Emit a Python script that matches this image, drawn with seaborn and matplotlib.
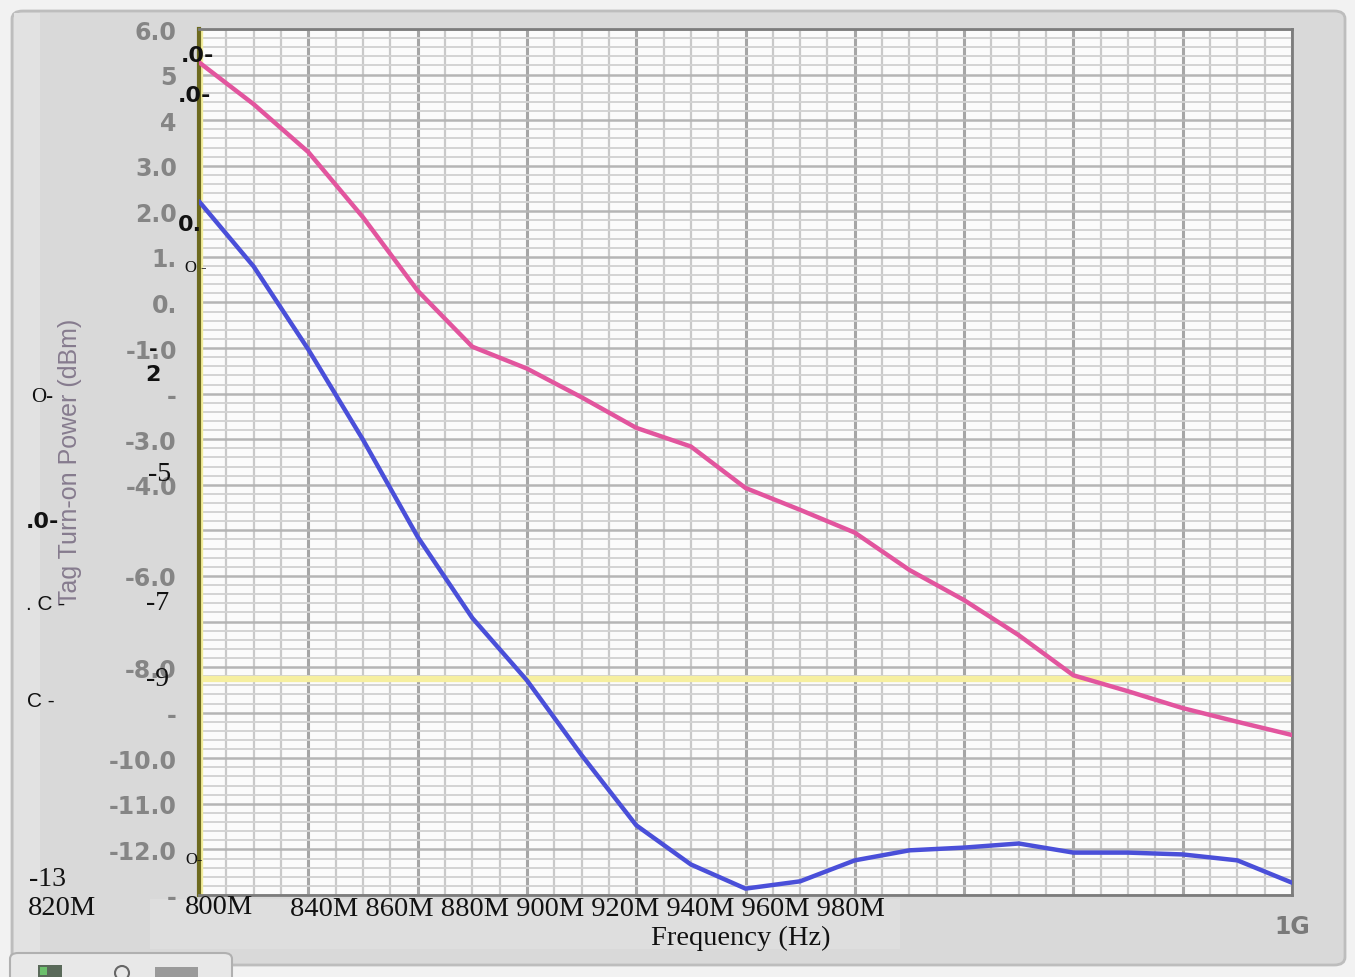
import matplotlib
matplotlib.use("Agg")
import matplotlib.pyplot as plt
import seaborn as sns
import pandas as pd
from matplotlib.patches import FancyBboxPatch, Rectangle, Ellipse
from matplotlib.ticker import MultipleLocator, FixedLocator

# ---------------- data ----------------
freq_mhz = [800, 810, 820, 830, 840, 850, 860, 870, 880, 890, 900,
            910, 920, 930, 940, 950, 960, 970, 980, 990, 1000]
pink_dbm = [5.27, 4.35, 3.30, 1.87, 0.26, -0.97, -1.45, -2.08, -2.75, -3.16, -4.07,
            -4.55, -5.05, -5.87, -6.53, -7.30, -8.18, -8.53, -8.90, -9.20, -9.49]
blue_dbm = [2.22, 0.79, -1.03, -3.01, -5.14, -6.92, -8.29, -9.93, -11.47, -12.33, -12.86,
            -12.70, -12.24, -12.02, -11.96, -11.87, -12.07, -12.07, -12.11, -12.24, -12.73]
series_names = ["pink", "blue"]
threshold_dbm = -8.26

y_ticks = [6, 5, 4, 3, 2, 1, 0, -1, -2, -3, -4, -5, -6, -7, -8, -9, -10, -11, -12, -13]
y_tick_labels = ["6.0", "5", "4", "3.0", "2.0", "1.", "0.", "-1.0", "-", "-3.0", "-4.0", "",
                 "-6.0", "", "-8.0", "-", "-10.0", "-11.0", "-12.0", "-"]
x_major = [800, 820, 840, 860, 880, 900, 920, 940, 960, 980, 1000]
x_tick_labels = ["", "", "", "", "", "", "", "", "", "", "1G"]
y_label = "Tag Turn-on Power (dBm)"

# overlay (OCR-like) texts seen on the picture
overlay_serif = [("-13", 48, 880, 20), ("820M", 62, 909, 20.5), ("800M", 219, 908, 20.5),
                 ("-5", 160, 475, 20), ("-7", 158, 603, 20), ("-9", 158, 680, 20),
                 ("O-", 42, 397, 15), ("O -", 196, 268, 12), ("O-", 194, 860, 12)]
overlay_axis_text = "840M 860M 880M 900M 920M 940M 960M 980M"
overlay_xlabel = "Frequency (Hz)"
overlay_bold = [(".0-", 197, 56, 16), (".0-", 194, 96, 16), ("0.", 190, 225, 16),
                ("-", 153, 350, 15), ("2", 153, 375, 16), (".0-", 42, 522, 16)]
overlay_sans = [(". C -", 46, 605, 15), ("C -", 41, 702, 15)]

# ---------------- figure ----------------
sns.set_theme(style="white")
W, H = 1355, 978
fig = plt.figure(figsize=(W / 100, H / 100), dpi=100, facecolor="#f2f2f2")

def fx(x):
    return x / W

def fy(y):
    return 1 - y / H

# panel background (drawn beneath the axes)
panel = FancyBboxPatch((fx(12), fy(966)), fx(1345) - fx(12), fy(12) - fy(966),
                       boxstyle="round,pad=0,rounding_size=0.008",
                       transform=fig.transFigure, facecolor="#d9d9d9",
                       edgecolor="#bdbdbd", linewidth=2, zorder=-10)
fig.patches.append(panel)
fig.patches.append(Rectangle((fx(14), fy(964)), fx(40) - fx(14), fy(14) - fy(964),
                             transform=fig.transFigure, facecolor="#e2e2e2",
                             edgecolor="none", zorder=-9))
fig.patches.append(Rectangle((fx(150), fy(950)), fx(900) - fx(150), fy(900) - fy(950),
                             transform=fig.transFigure, facecolor="#dedede",
                             edgecolor="none", zorder=-9))
# bottom-left tab
tab = FancyBboxPatch((fx(10), fy(990)), fx(232) - fx(10), fy(954) - fy(990),
                     boxstyle="round,pad=0,rounding_size=0.006",
                     transform=fig.transFigure, facecolor="#e8e8e8",
                     edgecolor="#b0b0b0", linewidth=1.5, zorder=-8)
fig.patches.append(tab)
fig.patches.append(Rectangle((fx(38), fy(978)), fx(62) - fx(38), fy(966) - fy(978),
                             transform=fig.transFigure, facecolor="#5a6a5a",
                             edgecolor="none", zorder=-7))
fig.patches.append(Rectangle((fx(40), fy(976)), fx(47) - fx(40), fy(968) - fy(976),
                             transform=fig.transFigure, facecolor="#6cc06c",
                             edgecolor="none", zorder=-6))
fig.patches.append(Ellipse((fx(122), fy(974)), 14 / W, 14 / H, transform=fig.transFigure,
                           facecolor="none", edgecolor="#666666", linewidth=1.5, zorder=-6))
fig.patches.append(Rectangle((fx(155), fy(978)), fx(198) - fx(155), fy(968) - fy(978),
                             transform=fig.transFigure, facecolor="#9a9a9a",
                             edgecolor="none", zorder=-6))

ax = fig.add_axes([fx(199), fy(896), fx(1292) - fx(199), fy(30) - fy(896)])
ax.set_zorder(1)
ax.set_facecolor("#fbfbfb")

df = pd.DataFrame({
    "freq": freq_mhz * 2,
    "power": pink_dbm + blue_dbm,
    "series": [series_names[0]] * len(freq_mhz) + [series_names[1]] * len(freq_mhz),
})

ax.axhline(threshold_dbm, color="#f6efa0", linewidth=4.5, zorder=2)
ax.axvline(freq_mhz[0], color="#f3ee9c", linewidth=6, zorder=2)

sns.lineplot(data=df, x="freq", y="power", hue="series",
             palette={"pink": "#e2559e", "blue": "#4a4fd9"},
             linewidth=3.2, legend=False, ax=ax, zorder=4)

ax.set_xlim(800, 1000)
ax.set_ylim(-13, 6)

# grid
ax.xaxis.set_major_locator(FixedLocator(x_major))
ax.xaxis.set_minor_locator(MultipleLocator(5))
ax.yaxis.set_major_locator(FixedLocator(y_ticks))
ax.yaxis.set_minor_locator(MultipleLocator(0.2))
ax.set_axisbelow(True)
ax.grid(which="minor", axis="x", color="#c9c9c9", linewidth=1.6)
ax.grid(which="major", axis="x", color="#a6a6a6", linewidth=2.2)
ax.grid(which="minor", axis="y", color="#d3d3d3", linewidth=1.4)
ax.grid(which="major", axis="y", color="#b5b5b5", linewidth=1.8)

ax.set_yticklabels(y_tick_labels)
ax.set_xticklabels(x_tick_labels)
ax.tick_params(axis="y", which="major", direction="out", length=10, width=2.2,
               color="#8a8a8a", pad=6, labelsize=17, labelcolor="#858585")
ax.tick_params(axis="x", which="major", direction="out", length=9, width=2.2,
               color="#444444", pad=5, labelsize=17, labelcolor="#7a7a7a")
ax.tick_params(which="minor", length=0)
for lab in ax.get_yticklabels() + ax.get_xticklabels():
    lab.set_fontweight("bold")
    lab.set_family("DejaVu Sans")
for t, v in zip(ax.xaxis.get_major_ticks(), x_major):
    if v < 940:
        t.tick1line.set_visible(False)

ax.set_xlabel("")
ax.set_ylabel("")

for side in ["top", "right", "bottom"]:
    ax.spines[side].set_color("#7c7c7c")
    ax.spines[side].set_linewidth(2)
ax.spines["left"].set_color("#6d6a1f")
ax.spines["left"].set_linewidth(3)

# y axis label
fig.text(fx(70), fy(462), y_label, rotation=90, ha="center", va="center",
         fontsize=18, color="#867b8e", family="Liberation Sans", zorder=5)

# overlay texts
fig.text(fx(290), fy(910), overlay_axis_text, ha="left", va="center",
         fontsize=20.5, color="#111111", family="Liberation Serif", zorder=5)
fig.text(fx(741), fy(938), overlay_xlabel, ha="center", va="center",
         fontsize=20.5, color="#111111", family="Liberation Serif", zorder=5)
for s, x, y, fs in overlay_serif:
    fig.text(fx(x), fy(y), s, ha="center", va="center", fontsize=fs,
             color="#111111", family="Liberation Serif", zorder=5)
for s, x, y, fs in overlay_bold:
    fig.text(fx(x), fy(y), s, ha="center", va="center", fontsize=fs,
             color="#111111", family="DejaVu Sans", fontweight="bold", zorder=5)
for s, x, y, fs in overlay_sans:
    fig.text(fx(x), fy(y), s, ha="center", va="center", fontsize=fs,
             color="#111111", family="Liberation Sans", zorder=5)

fig.savefig("out.png", dpi=100, facecolor=fig.get_facecolor())
